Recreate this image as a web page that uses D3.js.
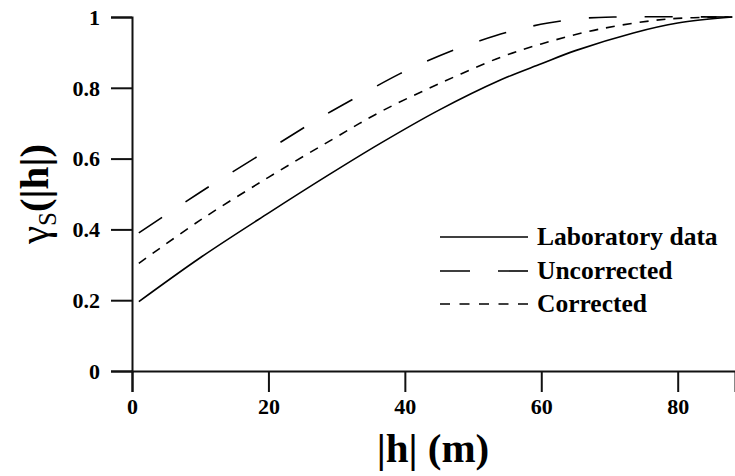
<!DOCTYPE html>
<html>
<head>
<meta charset="utf-8">
<script src="https://cdn.jsdelivr.net/npm/d3@7"></script>
<style>
  body { margin: 0; background: #fff; }
  text, tspan { font-family: "Liberation Serif", "Times New Roman", serif; }
</style>
</head>
<body>
<div class="mainContainer"></div>
<script>
// values
const labData = [[1, 0.196], [10, 0.32], [20, 0.446], [29, 0.556], [36.4, 0.643], [45, 0.737],
  [54, 0.822], [60, 0.868], [65, 0.905], [73.5, 0.955], [80, 0.983], [88, 1.0]];
const uncorrected = [[1, 0.39], [10, 0.505], [20, 0.625], [27.3, 0.712], [31.2, 0.755], [39.3, 0.84],
  [43.2, 0.875], [47.6, 0.91], [51, 0.933], [56, 0.962], [61, 0.983], [66, 0.996], [71, 1.0], [88, 1.0]];
const corrected = [[1, 0.304], [10, 0.426], [20, 0.547], [29, 0.65], [36.6, 0.734], [45.2, 0.813],
  [54, 0.886], [60, 0.924], [68.6, 0.966], [78.4, 0.994], [88, 1.0]];
const xTicks = [0, 20, 40, 60, 80];
const yTicks = [0, 0.2, 0.4, 0.6, 0.8, 1];
const seriesNames = ['Laboratory data', 'Uncorrected', 'Corrected'];

let width = 735;
let height = 476;
const serif = '"Liberation Serif", "Times New Roman", serif';

const x = d3.scaleLinear().domain([0, 88.4]).range([132, 735]);
const y = d3.scaleLinear().domain([0, 1]).range([371, 17]);

const svg = d3.select('.mainContainer')
  .append('svg')
  .attr('width', width)
  .attr('height', height);

// axes
const xAxis = svg.append('g')
  .attr('transform', 'translate(0,' + y(0) + ')')
  .call(d3.axisBottom(x).tickValues(xTicks).tickSize(21).tickPadding(12).tickFormat(d3.format('d')));
const yAxis = svg.append('g')
  .attr('transform', 'translate(' + x(0) + ',0)')
  .call(d3.axisLeft(y).tickValues(yTicks).tickSize(21).tickPadding(11).tickFormat((d) => d));

[xAxis, yAxis].forEach((g) => {
  g.attr('font-family', serif).attr('font-size', 22);
  g.select('.domain').attr('stroke', '#111').attr('stroke-width', 2);
  g.selectAll('.tick line').attr('stroke', '#111').attr('stroke-width', 2);
  g.selectAll('.tick text')
    .attr('fill', '#000')
    .style('font-family', serif)
    .style('font-weight', 'bold')
    .style('font-size', '22px');
});
xAxis.selectAll('.tick text').attr('dy', '0.45em');
yAxis.selectAll('.tick text').attr('dy', '0.33em');

// curves
const line = d3.line()
  .x((d) => x(d[0]))
  .y((d) => y(d[1]))
  .curve(d3.curveCatmullRom.alpha(0.5));

const dashes = ['none', '28,28', '9,8'];
const legendDashes = ['none', '30,28', '10,9.5'];
[labData, uncorrected, corrected].forEach((s, i) => {
  svg.append('path')
    .datum(s)
    .attr('d', line)
    .attr('fill', 'none')
    .attr('stroke', '#000')
    .attr('stroke-width', 1.6)
    .attr('stroke-dasharray', dashes[i]);
});

// legend
const legendY = [237, 271, 304];
seriesNames.forEach((name, i) => {
  svg.append('line')
    .attr('x1', 440).attr('x2', 528)
    .attr('y1', legendY[i]).attr('y2', legendY[i])
    .attr('stroke', '#000')
    .attr('stroke-width', 1.6)
    .attr('stroke-dasharray', legendDashes[i]);
  svg.append('text')
    .attr('x', 537)
    .attr('y', legendY[i] + 8)
    .style('font-family', serif)
    .style('font-weight', 'bold')
    .style('font-size', '25.5px')
    .text(name);
});

// axis titles
svg.append('text')
  .attr('x', 433)
  .attr('y', 462)
  .attr('text-anchor', 'middle')
  .style('font-family', serif)
  .style('font-weight', 'bold')
  .style('font-size', '41px')
  .text('|h| (m)');

const yTitle = svg.append('text')
  .attr('transform', 'translate(48,194) rotate(-90)')
  .attr('text-anchor', 'middle')
  .style('font-family', serif)
  .style('font-size', '41px');
yTitle.append('tspan').style('font-family', serif).text('γ');
yTitle.append('tspan').attr('dy', 8).style('font-family', serif).style('font-size', '25px').text('S');
yTitle.append('tspan').attr('dy', -8).style('font-family', serif).style('font-weight', 'bold').text('(|h|)');
</script>
</body>
</html>
